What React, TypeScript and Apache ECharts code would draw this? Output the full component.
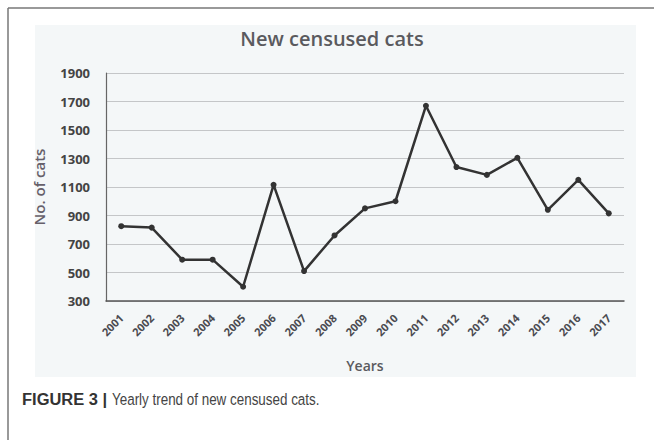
import React, { useEffect, useRef } from "react";
import * as echarts from "echarts";

const years = ["2001","2002","2003","2004","2005","2006","2007","2008","2009","2010","2011","2012","2013","2014","2015","2016","2017"];
const cats = [825, 815, 590, 590, 400, 1115, 510, 760, 950, 1000, 1670, 1240, 1185, 1305, 940, 1150, 915];
const yTicks = { min: 300, max: 1900, interval: 200 };
const chartTitle = "New censused cats";
const xName = "Years";
const yName = "No. of cats";
const captionBold = "FIGURE 3 |";
const captionText = "Yearly trend of new censused cats.";

export default function App() {
  const ref = useRef<HTMLDivElement>(null);
  useEffect(() => {
    if (!ref.current) return;
    const chart = echarts.init(ref.current, null, { renderer: "svg" });
    const font = "'Open Sans', Lato, sans-serif";
    const capFont = "'Liberation Sans', Arial, sans-serif";
    chart.setOption({
      animation: false,
      backgroundColor: "#ffffff",
      title: {
        text: chartTitle,
        left: 327,
        textAlign: "center",
        top: 23,
        textStyle: { fontFamily: font, fontSize: 20, fontWeight: 600, color: "#5a5a5e" },
      },
      graphic: [
        { type: "rect", z: -10, shape: { x: 35, y: 25, width: 601, height: 352 }, style: { fill: "#f4f7f8" }, silent: true },
        { type: "line", shape: { x1: 8, y1: 8, x2: 654, y2: 8 }, style: { stroke: "#777", lineWidth: 1.5 } },
        { type: "line", shape: { x1: 8, y1: 8, x2: 8, y2: 440 }, style: { stroke: "#777", lineWidth: 1.5 } },
        {
          type: "text",
          x: 22,
          y: 399,
          scaleX: 0.97,
          style: {
            text: captionBold,
            font: "bold 17px " + capFont,
            fill: "#333",
            verticalAlign: "middle",
          },
        },
        {
          type: "text",
          x: 112,
          y: 399,
          scaleX: 0.79,
          style: {
            text: captionText,
            font: "17px " + capFont,
            fill: "#444",
            verticalAlign: "middle",
          },
        },
      ],
      grid: { left: 106, right: 30, top: 73, bottom: 139, containLabel: false },
      xAxis: {
        type: "category",
        data: years,
        boundaryGap: true,
        name: xName,
        nameLocation: "middle",
        nameGap: 57,
        nameTextStyle: { fontFamily: font, fontSize: 14, fontWeight: 600, color: "#5a5a5e" },
        axisLine: { lineStyle: { color: "#555", width: 1.5 } },
        axisTick: { show: false },
        axisLabel: { rotate: 45, fontFamily: font, fontSize: 11, fontWeight: "bold", color: "#4a4a50", margin: 15, interval: 0 },
      },
      yAxis: {
        type: "value",
        min: yTicks.min,
        max: yTicks.max,
        interval: yTicks.interval,
        name: yName,
        nameLocation: "middle",
        nameGap: 60,
        nameTextStyle: { fontFamily: font, fontSize: 15, fontWeight: 600, color: "#66606a" },
        axisLine: { show: true, lineStyle: { color: "#666", width: 1.2 } },
        axisTick: { show: false },
        splitLine: { lineStyle: { color: "#c4c6c8", width: 1 } },
        axisLabel: { fontFamily: font, fontSize: 13, fontWeight: "bold", color: "#444", margin: 16, formatter: (v: number) => String(v) },
      },
      series: [
        {
          type: "line",
          data: cats,
          symbol: "circle",
          symbolSize: 6,
          lineStyle: { color: "#333", width: 2.5 },
          itemStyle: { color: "#333" },
        },
      ],
    });
    return () => chart.dispose();
  }, []);
  return <div ref={ref} style={{ position: "absolute", left: 0, top: 0, width: 654, height: 440 }} />;
}
